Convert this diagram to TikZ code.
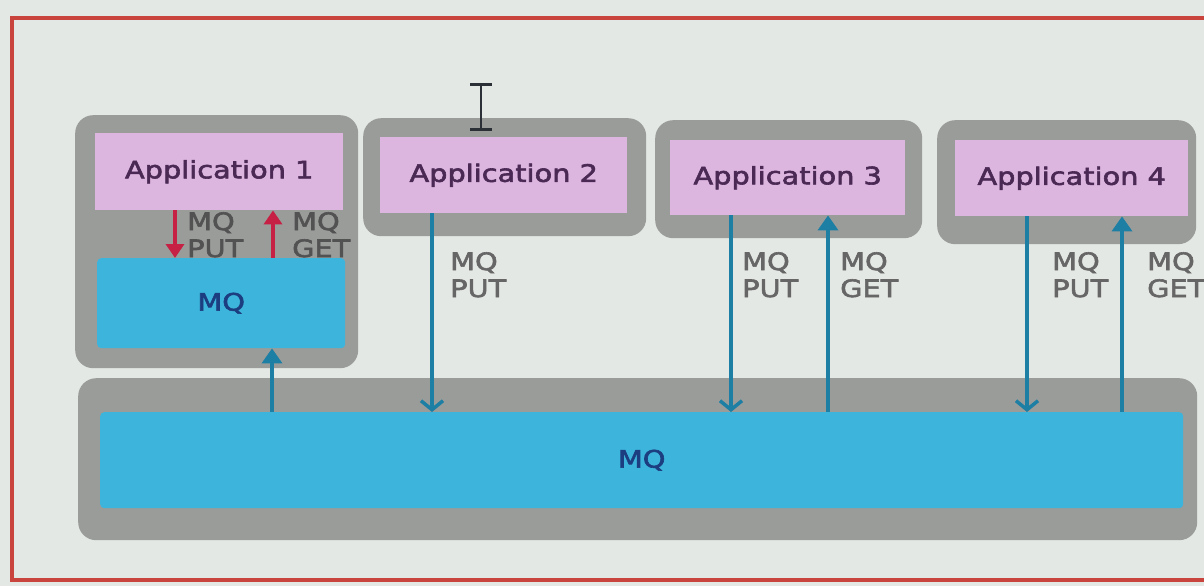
\documentclass[tikz,border=0pt]{standalone}
\usepackage{fontspec}
\setmainfont{DejaVu Sans}[FakeStretch=1.2,FakeBold=2.5]
\usetikzlibrary{arrows.meta}
\definecolor{bgc}{HTML}{E4E8E4}
\definecolor{framered}{HTML}{C8443C}
\definecolor{grpgray}{HTML}{9A9C9A}
\definecolor{apppink}{HTML}{DDB6DF}
\definecolor{apptext}{HTML}{4A2A55}
\definecolor{mqcyan}{HTML}{3DB4DB}
\definecolor{mqtext}{HTML}{1C3D80}
\definecolor{labgray}{HTML}{666666}
\definecolor{bluearrow}{HTML}{1D7FA3}
\definecolor{redarrow}{HTML}{C62045}
\definecolor{cursorc}{HTML}{2A3035}
\newcommand{\lblfont}{\fontsize{24}{27}\selectfont}
\begin{document}
\begin{tikzpicture}[x=1pt,y=-1pt,
  grp/.style={fill=grpgray, rounded corners=18pt, inner sep=0pt, anchor=north west},
  appbox/.style={fill=apppink, inner sep=0pt, anchor=north west, text=apptext, font=\lblfont},
  mqbox/.style={fill=mqcyan, rounded corners=4pt, inner sep=0pt, anchor=north west, text=mqtext, font=\lblfont},
  lab/.style={anchor=north west, inner sep=0pt, align=left, text=labgray, font=\lblfont},
  downarrow/.style={draw=bluearrow, line width=3.5pt, -{Straight Barb[length=9pt,width=22pt]}},
  uparrow/.style={draw=bluearrow, line width=3.5pt, -{Triangle[length=15pt,width=20pt]}},
  redput/.style={draw=redarrow, line width=4pt, -{Triangle[length=14pt,width=18pt]}}
]
\useasboundingbox (0,0) rectangle (1204,586);
\fill[bgc] (0,0) rectangle (1204,586);
\draw[framered, line width=4pt] (1210,580) -- (12,580) -- (12,18) -- (1210,18);

% groups
\node[grp, minimum width=283pt, minimum height=253pt] (g1) at (75,115) {};
\node[grp, minimum width=283pt, minimum height=118pt] (g2) at (363,118) {};
\node[grp, minimum width=267pt, minimum height=118pt] (g3) at (655,120) {};
\node[grp, minimum width=259pt, minimum height=124pt] (g4) at (937,120) {};
\node[grp, minimum width=1119pt, minimum height=162pt] (gb) at (78,378) {};

% applications
\node[appbox, minimum width=248pt, minimum height=77pt] (app1) at (95,133) {Application 1};
\node[appbox, minimum width=247pt, minimum height=76pt] (app2) at (380,137) {Application 2};
\node[appbox, minimum width=235pt, minimum height=75pt] (app3) at (670,140) {Application 3};
\node[appbox, minimum width=233pt, minimum height=76pt] (app4) at (955,140) {Application 4};

% queues
\node[mqbox, minimum width=248pt, minimum height=90pt] (mq1) at (97,258) {MQ};
\node[mqbox, minimum width=1083pt, minimum height=96pt] (bigmq) at (100,412) {MQ};

% red arrows inside group 1
\path ([xshift=80pt]app1.south west) coordinate (r1);
\path ([xshift=178pt]app1.south west) coordinate (r2);
\draw[redput] (r1) -- (r1 |- mq1.north);
\draw[redput] (r2 |- mq1.north) -- (r2);
\node[lab, text=labgray!80!black] (l1p) at (187,212) {MQ\\PUT};
\node[lab, text=labgray!80!black] (l1g) at (292,212) {MQ\\GET};

% blue arrows
\path ([xshift=175pt]mq1.south west) coordinate (b1);
\draw[uparrow] (b1 |- bigmq.north) -- (b1);

\path ([xshift=52pt]app2.south west) coordinate (p2);
\draw[downarrow] (p2) -- (p2 |- bigmq.north);

\path ([xshift=61pt]app3.south west) coordinate (p3);
\path ([xshift=158pt]app3.south west) coordinate (q3);
\draw[downarrow] (p3) -- (p3 |- bigmq.north);
\draw[uparrow] (q3 |- bigmq.north) -- (q3);

\path ([xshift=72pt]app4.south west) coordinate (p4);
\path ([xshift=167pt]app4.south west) coordinate (q4);
\draw[downarrow] (p4) -- (p4 |- bigmq.north);
\draw[uparrow] (q4 |- bigmq.north) -- (q4);

% labels
\node[lab] (l2p) at (450,252) {MQ\\PUT};
\node[lab] (l3p) at (742,252) {MQ\\PUT};
\node[lab] (l3g) at (840,252) {MQ\\GET};
\node[lab] (l4p) at (1052,252) {MQ\\PUT};
\node[lab] (l4g) at (1147,252) {MQ\\GET};

% text cursor
\draw[cursorc, line width=2.5pt] (481,84) -- (481,129);
\draw[cursorc, line width=3pt] (470,84) -- (492,84);
\draw[cursorc, line width=3pt] (470,129) -- (492,129);
\end{tikzpicture}
\end{document}
